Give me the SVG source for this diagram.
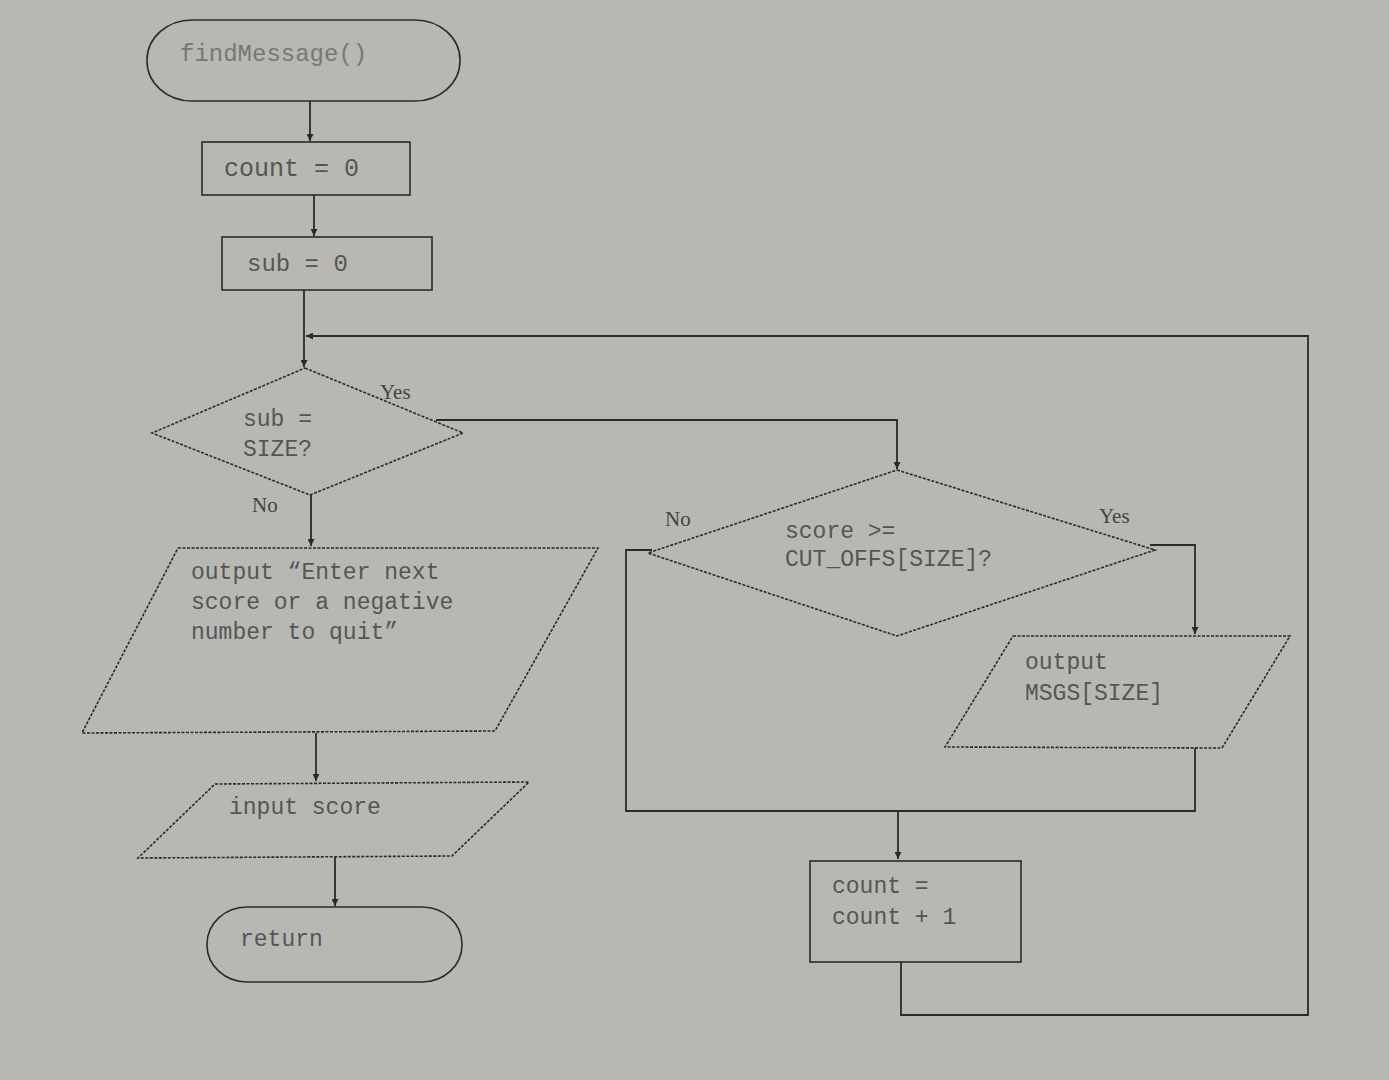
<svg xmlns="http://www.w3.org/2000/svg" width="1389" height="1080" viewBox="0 0 1389 1080">
<defs>
<marker id="arr" viewBox="0 0 10 10" refX="10" refY="5" markerWidth="7" markerHeight="7" orient="auto-start-reverse" markerUnits="userSpaceOnUse">
<path d="M0,0 L10,5 L0,10 z" fill="#2a2a2a"/>
</marker>
<style>
.s{fill:none;stroke:#2a2a2a;stroke-width:1.6}
.d{fill:none;stroke:#2a2a2a;stroke-width:1.6;stroke-dasharray:3 1.5}
.c{fill:none;stroke:#2a2a2a;stroke-width:1.8}
.t{font-family:"Liberation Mono","Courier New",monospace;font-size:23px;fill:#555}
.l{font-family:"Liberation Serif","Times New Roman",serif;font-size:21px;fill:#444}
</style>
</defs>
<rect width="1389" height="1080" fill="#b8b8b3"/>

<g id="connectors">
<path class="c" d="M310,101 V141" marker-end="url(#arr)"/>
<path class="c" d="M314,195 V236" marker-end="url(#arr)"/>
<path class="c" d="M304,290 V367" marker-end="url(#arr)"/>
<path class="c" d="M436,420 H897 V469" marker-end="url(#arr)"/>
<path class="c" d="M311,495 V546" marker-end="url(#arr)"/>
<path class="c" d="M316,733 V781" marker-end="url(#arr)"/>
<path class="c" d="M335,857 V906" marker-end="url(#arr)"/>
<path class="c" d="M652,550 H626 V811 H1195 V748"/>
<path class="c" d="M1150,545 H1195 V634" marker-end="url(#arr)"/>
<path class="c" d="M898,811 V859" marker-end="url(#arr)"/>
<path class="c" d="M901,962 V1015 H1308 V336 H306" marker-end="url(#arr)"/>
<text class="l" x="380" y="399">Yes</text>
<text class="l" x="252" y="512">No</text>
<text class="l" x="665" y="526">No</text>
<text class="l" x="1099" y="523">Yes</text>
</g>

<g id="start">
<rect class="s" x="147" y="20" width="313" height="81" rx="45" ry="40"/>
<text class="t" x="180" y="61" style="fill:#777;font-size:24px">findMessage()</text>
</g>

<g id="count0">
<rect class="s" x="202" y="142" width="208" height="53"/>
<text class="t" x="224" y="176" style="font-size:25px">count = 0</text>
</g>

<g id="sub0">
<rect class="s" x="222" y="237" width="210" height="53"/>
<text class="t" x="247" y="271" style="font-size:24px">sub = 0</text>
</g>

<g id="decision1">
<polygon class="d" points="305,368 463,433 310,495 152,433"/>
<text class="t" x="243" y="426">sub =</text>
<text class="t" x="243" y="456">SIZE?</text>
</g>

<g id="outputPrompt">
<polygon class="d" points="178,548 598,548 495,731 82,733"/>
<text class="t" x="191" y="579">output “Enter next</text>
<text class="t" x="191" y="609">score or a negative</text>
<text class="t" x="191" y="639">number to quit”</text>
</g>

<g id="inputScore">
<polygon class="d" points="215,784 529,782 452,856 138,858"/>
<text class="t" x="229" y="814">input score</text>
</g>

<g id="return">
<rect class="s" x="207" y="907" width="255" height="75" rx="40" ry="37"/>
<text class="t" x="240" y="946">return</text>
</g>

<g id="decision2">
<polygon class="d" points="897,470 1155,550 897,636 648,553"/>
<text class="t" x="785" y="538">score &gt;=</text>
<text class="t" x="785" y="566">CUT_OFFS[SIZE]?</text>
</g>

<g id="outputMsg">
<polygon class="d" points="1013,636 1290,636 1222,748 945,747"/>
<text class="t" x="1025" y="669">output</text>
<text class="t" x="1025" y="700">MSGS[SIZE]</text>
</g>

<g id="countInc">
<rect class="s" x="810" y="861" width="211" height="101"/>
<text class="t" x="832" y="893">count =</text>
<text class="t" x="832" y="924">count + 1</text>
</g>
</svg>
